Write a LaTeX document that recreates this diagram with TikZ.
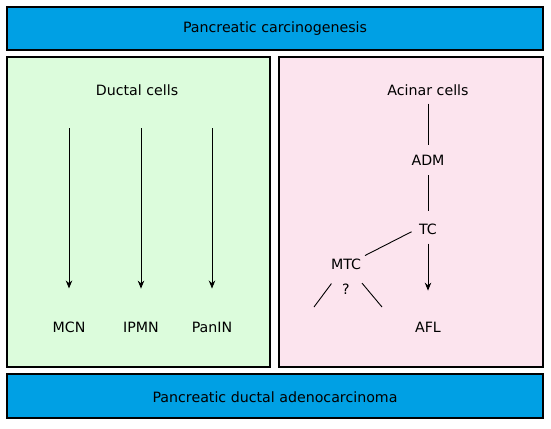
\documentclass[tikz,border=0pt]{standalone}
\usepackage{fontspec}
\setmainfont{DejaVu Sans}
\usepackage{tikz}
\usetikzlibrary{arrows,arrows.meta,shapes,positioning}
\usepackage{xcolor}
\definecolor{pcblue}{RGB}{0,160,228}
\definecolor{pcgreen}{RGB}{220,252,220}
\definecolor{pcpink}{RGB}{252,228,238}
\tikzstyle{bar} = [rectangle, draw=black, fill=pcblue, line width=1.2pt, minimum width=536pt, minimum height=43pt]
\tikzstyle{panel} = [rectangle, draw=black, line width=1.2pt, minimum height=310pt]
\tikzstyle{lbl} = [font=\fontsize{14.2}{17}\selectfont, inner sep=2pt]
\tikzstyle{arrow} = [line width=0.9pt,-{Stealth[length=8pt,width=6.5pt]}]
\tikzstyle{link} = [line width=0.9pt]

\begin{document}
\begin{tikzpicture}[x=1pt, y=-1pt]
    \useasboundingbox (0,0) rectangle (551,428);

    % Bars
    \node[bar] (top) at (275, 28.5) {};
    \node[lbl] (carc) at (275, 29) {Pancreatic carcinogenesis};
    \node[bar, minimum height=44pt] (bottom) at (275, 396) {};
    \node[lbl] (pdac) at (275, 397) {Pancreatic ductal adenocarcinoma};

    % Panels
    \node[panel, fill=pcgreen, minimum width=263pt] (ductal) at (138.5, 212) {};
    \node[panel, fill=pcpink, minimum width=264pt] (acinar) at (411, 212) {};

    % Ductal cells
    \node[lbl] (duct) at (137, 90) {Ductal cells};
    \node[lbl] (mcn) at (69, 327) {MCN};
    \node[lbl] (ipmn) at (141, 327) {IPMN};
    \node[lbl] (panin) at (212, 327) {PanIN};
    \coordinate (d1) at (69, 128);
    \coordinate (d2) at (141, 128);
    \coordinate (d3) at (212, 128);
    \draw[arrow, shorten >=31pt] (d1) -- (mcn);
    \draw[arrow, shorten >=31pt] (d2) -- (ipmn);
    \draw[arrow, shorten >=31pt] (d3) -- (panin);

    % Acinar cells
    \node[lbl] (acin) at (428, 90) {Acinar cells};
    \node[lbl] (adm) at (428, 160) {ADM};
    \node[lbl] (tc) at (428, 229) {TC};
    \node[lbl] (mtc) at (346, 264) {MTC};
    \node[lbl] (afl) at (428, 327) {AFL};
    \node[lbl] (quest) at (346, 289) {?};
    \coordinate (ql) at (314, 307);
    \coordinate (qr) at (382, 307);

    % Links
    \draw[link, shorten <=6pt, shorten >=8pt] (acin) -- (adm);
    \draw[link, shorten <=8pt, shorten >=10pt] (adm) -- (tc);
    \draw[arrow, shorten <=7pt, shorten >=29pt] (tc) -- (afl);
    \draw[link, shorten <=6pt, shorten >=2pt] (tc.west) -- (mtc.north east);
    \draw[link, shorten <=15pt] (mtc) -- (ql);
    \draw[link, shorten <=15pt] (mtc) -- (qr);
\end{tikzpicture}
\end{document}
